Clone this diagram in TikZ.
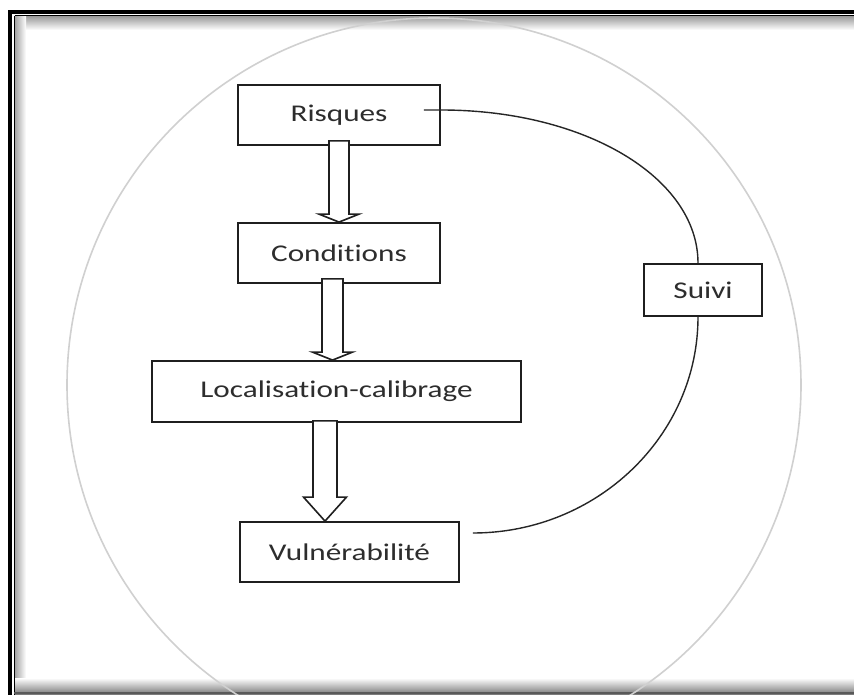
\documentclass[tikz,border=0pt]{standalone}
\usepackage{fontspec}
\setmainfont{Carlito}[Ligatures={NoCommon,NoContextual}]
\usetikzlibrary{calc}
\definecolor{txt}{RGB}{45,45,45}
\definecolor{circ}{RGB}{208,208,208}
\newcommand\wt[1]{\scalebox{1.3}[1]{#1}}
\newcommand\blockarr[7]{%
  \draw[blk] let \p1=($(#1.south)+(#3,0)$), \p2=(#2.north) in
    (\x1-#4,\y1+#7) -- (\x1-#4,\y2+#6) -- (\x1-#5,\y2+#6) -- (\x1,\y2)
    -- (\x1+#5,\y2+#6) -- (\x1+#4,\y2+#6) -- (\x1+#4,\y1+#7) -- cycle;}
\tikzset{
  box/.style={draw=black!88, line width=1.8pt, fill=white, inner sep=0pt,
    text=txt, font=\fontsize{24}{24}\selectfont},
  blk/.style={draw=black!88, line width=1.6pt, fill=white, line join=miter},
  link/.style={draw=black!85, line width=1.4pt},
  framethick/.style={draw=black, line width=4pt},
  framethin/.style={draw=black, line width=1.3pt}
}
\begin{document}
\begin{tikzpicture}[x=1pt,y=-1pt]
\useasboundingbox (0,0) rectangle (854,695);
\clip (0,0) rectangle (854,695);
\fill[white] (0,0) rectangle (854,695);
% frame shadow
\shade[top color=black!40, bottom color=white] (15,16) rectangle (854,30);
\shade[left color=black!35, right color=white] (15,16) rectangle (26,695);
\shade[top color=white, bottom color=black!55] (15,678) rectangle (854,695);
% frame lines
\draw[framethick] (10,12) -- (10,700);
\draw[framethick] (8,12) -- (860,12);
\draw[framethin] (14.5,15.6) -- (14.5,700);
\draw[framethin] (14.5,15.6) -- (860,15.6);
\draw[draw=black!65, line width=2pt] (14,693) -- (860,693);
% big circle
\draw[circ, line width=1.6pt] (434,385) circle[radius=367];
% boxes
\node[box, minimum width=202pt, minimum height=60pt] (ris) at (339,115) {\wt{Risques}};
\node[box, minimum width=202pt, minimum height=60pt] (con) at (339,253) {\wt{Conditions}};
\node[box, minimum width=369pt, minimum height=61pt] (loc) at (336.5,391.5) {\wt{Localisation-calibrage}};
\node[box, minimum width=219pt, minimum height=60pt] (vul) at (349.5,552) {\wt{Vulnérabilité}};
\node[box, minimum width=118pt, minimum height=52pt] (sui) at (703,290) {\wt{Suivi}};
% block arrows
\blockarr{ris}{con}{0}{10pt}{20pt}{8pt}{5pt}
\blockarr{con}{loc}{-6.5}{10.5pt}{20pt}{8pt}{5pt}
\blockarr{loc}{vul}{-11.5}{12pt}{21.5pt}{24pt}{2pt}
% follow-up loop
\coordinate (r0) at ($(ris.east)+(-17,-5)$);
\coordinate (r1) at ($(ris.east)+(0,-5)$);
\coordinate (s0) at ($(sui.north)+(-5,0)$);
\coordinate (s1) at ($(sui.south)+(-5,0)$);
\coordinate (v1) at ($(vul.east)+(13,-19)$);
\draw[link] (r0) -- (r1) .. controls +(145,0) and +(0,-85) .. (s0);
\draw[link] (s1) .. controls +(0,119) and +(124,0) .. (v1);
\end{tikzpicture}
\end{document}
